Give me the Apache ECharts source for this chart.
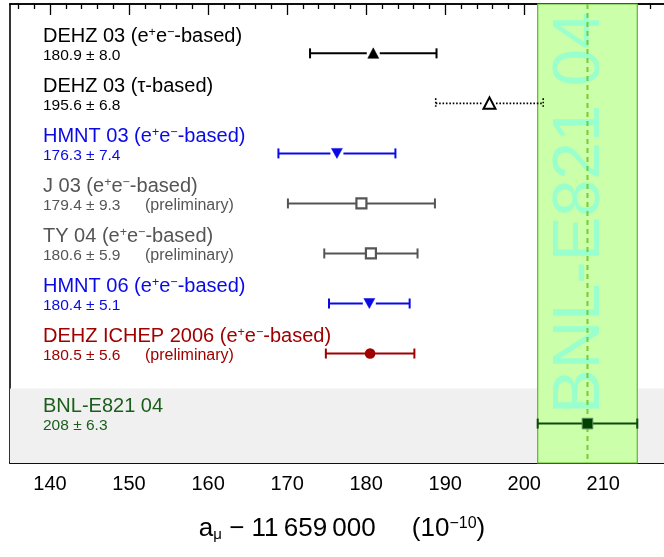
<!DOCTYPE html>
<html>
<head>
<meta charset="utf-8">
<script src="https://cdn.jsdelivr.net/npm/echarts@6/dist/echarts.min.js"></script>
<style>
  html, body { margin: 0; padding: 0; background: #fff; }
  #gm2Chart { width: 664px; height: 557px; }
</style>
</head>
<body>
<div id="gm2Chart"></div>
<script>
  // measurements, top to bottom
  const labels = ['DEHZ 03', 'DEHZ 03', 'HMNT 03', 'J 03', 'TY 04', 'HMNT 06', 'DEHZ ICHEP 2006', 'BNL-E821 04']
  const methods = ['ee', 'tau', 'ee', 'ee', 'ee', 'ee', 'ee', '']
  const values = [180.9, 195.6, 176.3, 179.4, 180.6, 180.4, 180.5, 208]
  const errors = [8.0, 6.8, 7.4, 9.3, 5.9, 5.1, 5.6, 6.3]
  const preliminary = [false, false, false, true, true, false, true, false]
  const rows = [0, 1, 2, 3, 4, 5, 6, 7.4]
  const majorTicks = [140, 150, 160, 170, 180, 190, 200, 210]
  const minorTicks = [136, 138, 142, 144, 146, 148, 152, 154, 156, 158, 162, 164, 166, 168, 172, 174, 176, 178,
    182, 184, 186, 188, 192, 194, 196, 198, 202, 204, 206, 208, 212, 214, 216]
  const expIndex = 7 // BNL-E821 04 is the experiment, the band

  const rowStyles = [
    { line: '#000', text: '#000', marker: 'up', fill: true },
    { line: '#000', text: '#000', marker: 'up', fill: false, dotted: true },
    { line: '#0a0ae6', text: '#0a0ae6', marker: 'down', fill: true },
    { line: '#555', text: '#555', marker: 'square', fill: false },
    { line: '#555', text: '#555', marker: 'square', fill: false },
    { line: '#0a0ae6', text: '#0a0ae6', marker: 'down', fill: true },
    { line: '#a00000', text: '#a00000', marker: 'circle', fill: true },
    { line: '#0b4a0b', text: '#1b5e1b', marker: 'square', fill: true }
  ]

  const FONT = '"Liberation Sans", Arial, Helvetica, sans-serif'
  const XMIN = 134.94
  const XMAX = 217.68

  function methodText (m) {
    if (m === 'ee') return ' (e{sup|+}e{sup|−}-based)'
    if (m === 'tau') return ' (τ-based)'
    return ''
  }

  function fmt (v) {
    return v % 1 === 0 ? String(v) : v.toFixed(1)
  }

  const barData = values.map((v, i) => [v, v - errors[i], v + errors[i], rows[i]])

  function markerShape (st, x, y) {
    const stroke = st.line
    const fill = st.fill ? st.line : '#fff'
    if (st.marker === 'up') {
      const s = st.fill ? 5.5 : 6
      return { type: 'polygon', shape: { points: [[x - s, y + s - 0.5], [x + s, y + s - 0.5], [x, y - s]] },
        style: { fill: fill, stroke: stroke, lineWidth: st.fill ? 0.5 : 2 } }
    }
    if (st.marker === 'down') {
      return { type: 'polygon', shape: { points: [[x - 5.5, y - 5], [x + 5.5, y - 5], [x, y + 5]] },
        style: { fill: fill, stroke: stroke, lineWidth: 0.5 } }
    }
    if (st.marker === 'circle') {
      return { type: 'circle', shape: { cx: x, cy: y, r: 5.3 }, style: { fill: fill } }
    }
    if (st.fill) {
      return { type: 'rect', shape: { x: x - 5.3, y: y - 5.3, width: 10.6, height: 10.6 },
        style: { fill: '#004000', stroke: '#5b8f5b', lineWidth: 1 } }
    }
    return { type: 'rect', shape: { x: x - 5, y: y - 5, width: 10, height: 10 },
      style: { fill: '#fff', stroke: stroke, lineWidth: 2.2 } }
  }

  function renderBar (params, api) {
    const i = params.dataIndex
    const st = rowStyles[i]
    const c = api.coord([api.value(0), api.value(3)])
    const lo = api.coord([api.value(1), api.value(3)])[0]
    const hi = api.coord([api.value(2), api.value(3)])[0]
    const x = c[0]
    const y = c[1]
    const gap = st.marker === 'up' || st.marker === 'down' ? 6.5 : 4
    const ls = { stroke: st.line, lineWidth: st.dotted ? 1.6 : 2, lineDash: st.dotted ? [1.6, 1.8] : null }
    const left = params.coordSys.x
    const children = [
      { type: 'line', shape: { x1: lo, y1: y, x2: x - gap, y2: y }, style: ls },
      { type: 'line', shape: { x1: x + gap, y1: y, x2: hi, y2: y }, style: ls },
      { type: 'line', shape: { x1: lo, y1: y - 5, x2: lo, y2: y + 5 }, style: ls },
      { type: 'line', shape: { x1: hi, y1: y - 5, x2: hi, y2: y + 5 }, style: ls },
      markerShape(st, x, y),
      {
        type: 'text',
        x: left + 33,
        y: y - 17,
        style: {
          text: labels[i] + methodText(methods[i]),
          fill: st.text,
          fontSize: 20,
          fontFamily: FONT,
          verticalAlign: 'middle',
          rich: { sup: { fontSize: 12.5, fontFamily: FONT, fill: st.text, verticalAlign: 'top', padding: [0, 0, 6, 0] } }
        }
      },
      {
        type: 'text',
        x: left + 33,
        y: y + 2.5,
        style: {
          text: fmt(values[i]) + ' \u00b1 ' + errors[i].toFixed(1),
          fill: st.text,
          fontSize: 15.5,
          fontFamily: FONT,
          verticalAlign: 'middle'
        }
      }
    ]
    if (preliminary[i]) {
      children.push({
        type: 'text',
        x: left + 135,
        y: y + 2.5,
        style: { text: '(preliminary)', fill: st.text, fontSize: 16, fontFamily: FONT, verticalAlign: 'middle' }
      })
    }
    return { type: 'group', children: children }
  }

  function renderBackground (params, api) {
    const cs = params.coordSys
    const y0 = api.coord([XMIN, (rows[expIndex - 1] + rows[expIndex]) / 2])[1]
    return { type: 'rect', shape: { x: cs.x, y: y0, width: cs.width, height: cs.y + cs.height - y0 },
      style: { fill: '#f0f0f0' } }
  }

  function renderBand (params, api) {
    const cs = params.coordSys
    const lo = api.coord([api.value(1), 0])[0]
    const hi = api.coord([api.value(2), 0])[0]
    const mid = api.coord([api.value(0), 0])[0]
    return {
      type: 'group',
      children: [
        { type: 'rect', shape: { x: lo, y: cs.y, width: hi - lo, height: cs.height },
          style: { fill: '#ccffaa', stroke: '#5cb82a', lineWidth: 1.2 } },
        {
          type: 'text',
          x: mid - 7,
          y: cs.y + cs.height * 0.455,
          rotation: Math.PI / 2,
          style: { text: labels[expIndex], fill: '#99ffcc', fontSize: 67, fontFamily: FONT, align: 'center', verticalAlign: 'middle' }
        },
        { type: 'line', shape: { x1: mid, y1: cs.y, x2: mid, y2: cs.y + cs.height },
          style: { stroke: '#77cc33', lineWidth: 2, lineDash: [5, 4] } }
      ]
    }
  }

  const chart = echarts.init(document.getElementById('gm2Chart'))
  const tickAxis = (pos, vals, len, extra) => Object.assign({
    type: 'value',
    position: pos,
    min: XMIN,
    max: XMAX,
    axisLine: { show: true, onZero: false, lineStyle: { color: '#000', width: 1.6 } },
    axisTick: { show: true, inside: true, length: len, customValues: vals, lineStyle: { color: '#000', width: 1.3 } },
    axisLabel: { show: false },
    splitLine: { show: false }
  }, extra || {})

  chart.setOption({
    animation: false,
    grid: { left: 10, top: 4, right: 0, bottom: 94 },
    xAxis: [
      tickAxis('bottom', majorTicks, 11, {
        axisLabel: {
          show: true,
          customValues: majorTicks,
          fontSize: 20,
          fontFamily: FONT,
          color: '#000',
          margin: 11
        },
        name: 'a{sub|μ} − 11\u2009659\u2009000     (10{sup|−10})',
        nameLocation: 'middle',
        nameGap: 53,
        nameTextStyle: {
          fontSize: 26,
          fontFamily: FONT,
          color: '#000',
          padding: [0, 0, 0, 10],
          rich: {
            sub: { fontSize: 15, fontFamily: FONT, color: '#000', verticalAlign: 'bottom', padding: [10, 0, 0, 0] },
            sup: { fontSize: 16, fontFamily: FONT, color: '#000', verticalAlign: 'top', padding: [0, 0, 8, 0] }
          }
        }
      }),
      tickAxis('bottom', minorTicks, 5),
      tickAxis('top', majorTicks, 11),
      tickAxis('top', minorTicks, 5)
    ],
    yAxis: {
      type: 'value',
      inverse: true,
      min: -0.986,
      max: 8.188,
      axisLine: { show: true, lineStyle: { color: '#000', width: 1.6 } },
      axisTick: { show: false },
      axisLabel: { show: false },
      splitLine: { show: false }
    },
    series: [
      {
        type: 'custom',
        renderItem: renderBackground,
        data: [[values[expIndex], rows[expIndex]]],
        silent: true,
        z: 1
      },
      {
        type: 'custom',
        renderItem: renderBand,
        encode: { x: [0, 1, 2], y: 3 },
        data: [barData[expIndex]],
        silent: true,
        z: 2
      },
      {
        type: 'custom',
        renderItem: renderBar,
        encode: { x: [0, 1, 2], y: 3 },
        data: barData,
        z: 3
      }
    ]
  })
</script>
</body>
</html>
